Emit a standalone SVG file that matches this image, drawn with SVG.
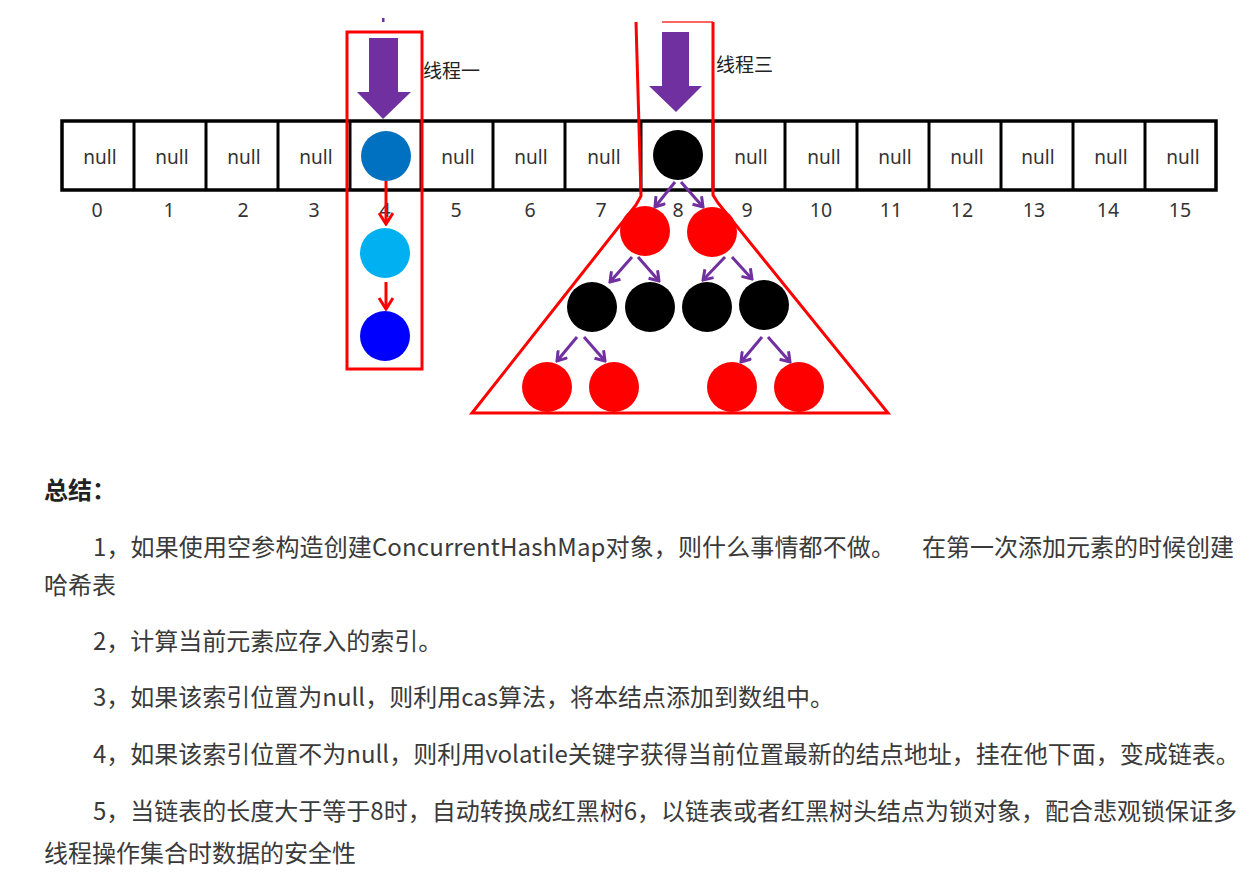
<svg xmlns="http://www.w3.org/2000/svg" width="1260" height="876" viewBox="0 0 1260 876">
<style>
.cell{fill:#fff;stroke:#000;stroke-width:3.5}
.div{stroke:#000;stroke-width:3}
.null{font-family:"Noto Sans","Liberation Sans",sans-serif;font-size:19px;fill:#333;text-anchor:middle}
.idx{font-family:"Noto Sans","Liberation Sans",sans-serif;font-size:19.5px;fill:#333;text-anchor:middle}
.lbl{font-family:"Noto Sans CJK SC","Noto Sans",sans-serif;font-size:19px;fill:#222}
.body{font-family:"Noto Sans CJK SC","Noto Sans",sans-serif;font-size:24px;fill:#3a3a3a}
.bold{font-weight:bold;fill:#222}
.red{fill:#FF0000}
.blk{fill:#000}
.outline{fill:none;stroke:#FF0000;stroke-width:3}
.pa{stroke:#7030A0;stroke-width:3;fill:none;marker-end:url(#mp)}
.ra{stroke:#FF0000;stroke-width:3;fill:none;marker-end:url(#mr)}
.block{fill:#7030A0}
</style>
<defs>
<marker id="mp" markerUnits="userSpaceOnUse" viewBox="0 0 12 14" markerWidth="12" markerHeight="14" refX="10" refY="7" orient="auto">
<path d="M1,1 L10,7 L1,13" fill="none" stroke="#7030A0" stroke-width="3"/>
</marker>
<marker id="mr" markerUnits="userSpaceOnUse" viewBox="0 0 14 16" markerWidth="14" markerHeight="16" refX="12" refY="8" orient="auto">
<path d="M1,1 L12,8 L1,15" fill="none" stroke="#FF0000" stroke-width="3"/>
</marker>
</defs>
<rect width="1260" height="876" fill="#fff"/>

<g id="array">
<rect class="cell" x="62" y="121" width="1154" height="69"/>
<line class="div" x1="134" y1="121" x2="134" y2="190"/>
<line class="div" x1="206" y1="121" x2="206" y2="190"/>
<line class="div" x1="278" y1="121" x2="278" y2="190"/>
<line class="div" x1="350" y1="121" x2="350" y2="190"/>
<line class="div" x1="421" y1="121" x2="421" y2="190"/>
<line class="div" x1="493" y1="121" x2="493" y2="190"/>
<line class="div" x1="565" y1="121" x2="565" y2="190"/>
<line class="div" x1="641" y1="121" x2="641" y2="190"/>
<line class="div" x1="713" y1="121" x2="713" y2="190"/>
<line class="div" x1="785" y1="121" x2="785" y2="190"/>
<line class="div" x1="857" y1="121" x2="857" y2="190"/>
<line class="div" x1="929" y1="121" x2="929" y2="190"/>
<line class="div" x1="1001" y1="121" x2="1001" y2="190"/>
<line class="div" x1="1073" y1="121" x2="1073" y2="190"/>
<line class="div" x1="1145" y1="121" x2="1145" y2="190"/>
<text class="null" x="100" y="164">null</text>
<text class="null" x="172" y="164">null</text>
<text class="null" x="244" y="164">null</text>
<text class="null" x="316" y="164">null</text>
<text class="null" x="458" y="164">null</text>
<text class="null" x="531" y="164">null</text>
<text class="null" x="604" y="164">null</text>
<text class="null" x="751" y="164">null</text>
<text class="null" x="824" y="164">null</text>
<text class="null" x="895" y="164">null</text>
<text class="null" x="967" y="164">null</text>
<text class="null" x="1038" y="164">null</text>
<text class="null" x="1111" y="164">null</text>
<text class="null" x="1183" y="164">null</text>
</g>
<g id="indices">
<text class="idx" x="97" y="217">0</text>
<text class="idx" x="169" y="217">1</text>
<text class="idx" x="243" y="217">2</text>
<text class="idx" x="314" y="217">3</text>
<text class="idx" x="385" y="217">4</text>
<text class="idx" x="456" y="217">5</text>
<text class="idx" x="530" y="217">6</text>
<text class="idx" x="601" y="217">7</text>
<text class="idx" x="678" y="217">8</text>
<text class="idx" x="747" y="217">9</text>
<text class="idx" x="821" y="217">10</text>
<text class="idx" x="891" y="217">11</text>
<text class="idx" x="962" y="217">12</text>
<text class="idx" x="1034" y="217">13</text>
<text class="idx" x="1108" y="217">14</text>
<text class="idx" x="1180" y="217">15</text>
</g>

<g id="thread1">
<rect x="382" y="18" width="2.5" height="4" fill="#7030A0"/>
<polygon class="block" points="369,38 398,38 398,92 411,92 383,119 357,92 369,92"/>
<text class="lbl" x="423" y="78">线程一</text>
</g>
<g id="thread3">
<polygon class="block" points="662,32 689,32 689,86 702,86 676,112 649,86 662,86"/>
<text class="lbl" x="716" y="72">线程三</text>
</g>

<g id="list-node-1"><circle cx="386" cy="156" r="25" fill="#0070C0"/></g>
<g id="list-node-2"><circle cx="385" cy="253" r="25" fill="#00B0F0"/></g>
<g id="list-node-3"><circle cx="385" cy="336" r="25" fill="#0000FF"/></g>

<g id="tree-root"><circle class="blk" cx="678" cy="155" r="25"/></g>
<g id="tree-l1-a"><circle class="red" cx="645" cy="231" r="25"/></g>
<g id="tree-l1-b"><circle class="red" cx="712" cy="232" r="25"/></g>
<g id="tree-l2-a"><circle class="blk" cx="592" cy="307" r="25"/></g>
<g id="tree-l2-b"><circle class="blk" cx="650" cy="307" r="25"/></g>
<g id="tree-l2-c"><circle class="blk" cx="707" cy="307" r="25"/></g>
<g id="tree-l2-d"><circle class="blk" cx="764" cy="305" r="25"/></g>
<g id="tree-l3-a"><circle class="red" cx="547" cy="387" r="25"/></g>
<g id="tree-l3-b"><circle class="red" cx="614" cy="387" r="25"/></g>
<g id="tree-l3-c"><circle class="red" cx="732" cy="387" r="25"/></g>
<g id="tree-l3-d"><circle class="red" cx="799" cy="387" r="25"/></g>

<g id="connectors">
<line class="ra" x1="386" y1="181" x2="386" y2="224"/>
<line class="ra" x1="386" y1="282" x2="386" y2="309"/>
<line class="pa" x1="675" y1="182" x2="655" y2="207"/>
<line class="pa" x1="681" y1="182" x2="703" y2="207"/>
<line class="pa" x1="632" y1="257" x2="610" y2="282"/>
<line class="pa" x1="638" y1="257" x2="659" y2="281"/>
<line class="pa" x1="725" y1="257" x2="703" y2="280"/>
<line class="pa" x1="732" y1="257" x2="752" y2="279"/>
<line class="pa" x1="577" y1="337" x2="557" y2="361"/>
<line class="pa" x1="584" y1="337" x2="605" y2="361"/>
<line class="pa" x1="762" y1="337" x2="741" y2="362"/>
<line class="pa" x1="768" y1="337" x2="790" y2="362"/>
</g>

<g id="lock-outlines">
<rect class="outline" x="347" y="32" width="75" height="337"/>
<polyline class="outline" points="636,22 641,196 636,205 472,413 888,413 718,203 713,195 713,22"/>
<line x1="662" y1="22" x2="713" y2="22" stroke="#FF0000" stroke-width="2" stroke-opacity="0.6"/>
</g>

<g id="summary">
<text class="body bold" x="44" y="499">总结：</text>
<text class="body" x="93" y="556" textLength="802" lengthAdjust="spacing">1，如果使用空参构造创建ConcurrentHashMap对象，则什么事情都不做。</text>
<text class="body" x="922" y="556">在第一次添加元素的时候创建</text>
<text class="body" x="44" y="594">哈希表</text>
<text class="body" x="93" y="650">2，计算当前元素应存入的索引。</text>
<text class="body" x="93" y="706">3，如果该索引位置为null，则利用cas算法，将本结点添加到数组中。</text>
<text class="body" x="93" y="763">4，如果该索引位置不为null，则利用volatile关键字获得当前位置最新的结点地址，挂在他下面，变成链表。</text>
<text class="body" x="93" y="820">5，当链表的长度大于等于8时，自动转换成红黑树6，以链表或者红黑树头结点为锁对象，配合悲观锁保证多</text>
<text class="body" x="44" y="862">线程操作集合时数据的安全性</text>
</g>
</svg>
